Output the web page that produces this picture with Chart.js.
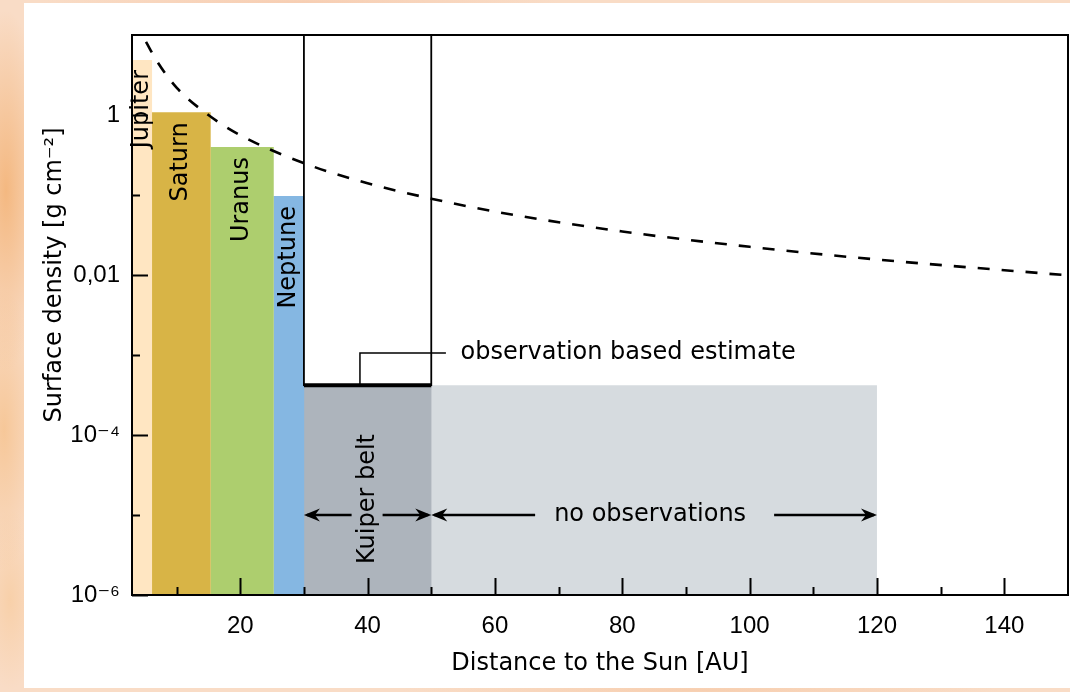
<!DOCTYPE html>
<html>
<head>
<meta charset="utf-8">
<script src="https://cdn.jsdelivr.net/npm/chart.js@4.4.1/dist/chart.umd.min.js"></script>
<style>
  html, body { margin: 0; padding: 0; }
  body {
    width: 1070px; height: 692px; overflow: hidden; position: relative;
    background:
      radial-gradient(ellipse 40px 180px at 6px 190px, rgba(242,172,105,.75), transparent),
      radial-gradient(ellipse 35px 140px at 4px 430px, rgba(245,188,128,.65), transparent),
      radial-gradient(ellipse 30px 90px at 10px 600px, rgba(247,200,150,.6), transparent),
      radial-gradient(ellipse 260px 10px at 300px 2px, rgba(246,200,170,.7), transparent),
      radial-gradient(ellipse 300px 8px at 700px 690px, rgba(246,200,165,.7), transparent),
      #f9dcc6;
  }
  #panel { position: absolute; left: 24px; top: 3px; width: 1046px; height: 685px; background: #fff; }
</style>
</head>
<body>
<div id="panel"><canvas id="chart" width="1046" height="685"></canvas></div>
<script>
// regions of the solar system (AU) and their surface density [g cm^-2]
const regionNames   = ['Jupiter', 'Saturn', 'Uranus', 'Neptune', 'Kuiper belt', 'no observations'];
const regionFrom    = [3, 6.1, 15.3, 25.2, 30, 50];
const regionTo      = [6.1, 15.3, 25.2, 30, 50, 120];
const regionDensity = [4.87, 1.08, 0.398, 0.097, 4.2e-4, 4.2e-4];
const regionColors  = ['#ffe6c2', '#d8b446', '#adce6e', '#85b7e2', '#adb4bc', '#d6dbdf'];

// dashed reference curve
const curveDist    = [5.2, 7, 10, 15, 20, 30, 40, 50, 60, 80, 100, 120, 150];
const curveDensity = [8.2, 4.6, 2.2, 1.0, 0.56, 0.25, 0.14, 0.09, 0.062, 0.035, 0.0225, 0.0156, 0.0099];

// Kuiper belt observed estimate and the (empty) box above it
const estimateDensity = 4.2e-4;
const boxTop = 10;

const xTickValues = [10, 20, 30, 40, 50, 60, 70, 80, 90, 100, 110, 120, 130, 140];
const xTickLabels = ['', '20', '', '40', '', '60', '', '80', '', '100', '', '120', '', '140'];
const yTickValues = [1e-6, 1e-5, 1e-4, 1e-3, 1e-2, 1e-1, 1];
const yTickLabels = ['10\u207B\u2076', '', '10\u207B\u2074', '', '0,01', '', '1'];

const FONT = '"DejaVu Sans", sans-serif';
const TICK_FONT = '"Liberation Sans", "DejaVu Sans", sans-serif';

// small overlap so neighbouring fills don't leave a white seam
const seam = 0.08;
const regionSets = regionNames.map((name, i) => {
  const end = regionTo[i] + (regionFrom[i + 1] === regionTo[i] ? seam : 0);
  return {
    label: name,
    data: [{x: regionFrom[i], y: regionDensity[i]}, {x: end, y: regionDensity[i]}],
    backgroundColor: regionColors[i],
    borderColor: 'rgba(0,0,0,0)',
    borderWidth: 1,
    fill: 'start',
    pointRadius: 0,
    order: 10
  };
});

const lineSets = [
  { label: 'curve', data: curveDist.map((d, i) => ({x: d, y: curveDensity[i]})),
    borderColor: '#000', borderWidth: 2.6, borderDash: [12, 12], cubicInterpolationMode: 'monotone',
    pointRadius: 0, fill: false, order: 1 },
  { label: 'box', data: [{x: regionFrom[4], y: boxTop}, {x: regionFrom[4], y: estimateDensity},
                         {x: regionTo[4], y: estimateDensity}, {x: regionTo[4], y: boxTop}],
    borderColor: '#000', borderWidth: 1.8, pointRadius: 0, fill: false, order: 2 },
  { label: 'estimate', data: [{x: regionFrom[4], y: estimateDensity}, {x: regionTo[4], y: estimateDensity}],
    borderColor: '#000', borderWidth: 4, pointRadius: 0, fill: false, order: 1 },
  { label: 'leader', data: [{x: 38.8, y: estimateDensity}, {x: 38.8, y: 1.06e-3}, {x: 52.3, y: 1.06e-3}],
    borderColor: '#000', borderWidth: 1.5, pointRadius: 0, fill: false, order: 1 }
];

function arrowHead(ctx, x, y, dir) {
  ctx.beginPath();
  ctx.moveTo(x, y);
  ctx.lineTo(x - dir * 16, y - 6.5);
  ctx.lineTo(x - dir * 11, y);
  ctx.lineTo(x - dir * 16, y + 6.5);
  ctx.closePath();
  ctx.fill();
}

function arrowPair(ctx, x1, x2, y, gapL, gapR) {
  ctx.beginPath();
  ctx.moveTo(x1 + 3, y); ctx.lineTo(gapL, y);
  ctx.moveTo(gapR, y); ctx.lineTo(x2 - 3, y);
  ctx.stroke();
  arrowHead(ctx, x1, y, -1);
  arrowHead(ctx, x2, y, 1);
}

const overlay = {
  id: 'overlay',
  afterDatasetsDraw(chart) {
    const {ctx, chartArea: a, scales: {x, y}} = chart;
    ctx.save();
    ctx.strokeStyle = '#000';
    ctx.fillStyle = '#000';
    ctx.lineWidth = 2;
    ctx.strokeRect(a.left, a.top, a.right - a.left, a.bottom - a.top);

    // inward ticks
    ctx.beginPath();
    xTickValues.forEach((v, i) => {
      const px = Math.round(x.getPixelForValue(v)) + 0.5;
      ctx.moveTo(px, a.bottom);
      ctx.lineTo(px, a.bottom - (xTickLabels[i] ? 17 : 8));
    });
    yTickValues.forEach((v, i) => {
      const py = Math.round(y.getPixelForValue(v)) + 0.5;
      ctx.moveTo(a.left, py);
      ctx.lineTo(a.left + (yTickLabels[i] ? 16 : 8), py);
    });
    ctx.stroke();

    // planet labels
    ctx.font = '24px ' + FONT;
    ctx.textBaseline = 'middle';
    for (let i = 0; i < 4; i++) {
      const cx = x.getPixelForValue((regionFrom[i] + regionTo[i]) / 2);
      const top = y.getPixelForValue(regionDensity[i]);
      ctx.save();
      ctx.translate(cx, top + 10);
      ctx.rotate(-Math.PI / 2);
      ctx.textAlign = 'right';
      ctx.fillText(regionNames[i], 0, 0);
      ctx.restore();
    }

    // arrows
    const ay = y.getPixelForValue(1e-5);
    ctx.lineWidth = 2.3;
    const k1 = x.getPixelForValue(regionFrom[4]), k2 = x.getPixelForValue(regionTo[4]);
    const kc = (k1 + k2) / 2;
    arrowPair(ctx, k1, k2, ay, kc - 16, kc + 15);
    const n1 = x.getPixelForValue(regionFrom[5]), n2 = x.getPixelForValue(regionTo[5]);
    const nc = (n1 + n2) / 2;
    arrowPair(ctx, n1, n2, ay, nc - 119, nc + 120);

    ctx.save();
    ctx.translate(kc, ay - 16);
    ctx.rotate(-Math.PI / 2);
    ctx.textAlign = 'center';
    ctx.fillText(regionNames[4], 0, 0);
    ctx.restore();

    ctx.textAlign = 'center';
    ctx.fillText(regionNames[5], nc - 4, ay);

    ctx.textAlign = 'left';
    ctx.fillText('observation based estimate', x.getPixelForValue(54.6), y.getPixelForValue(1.06e-3));

    // axis titles
    ctx.textAlign = 'center';
    ctx.fillText('Distance to the Sun [AU]', (a.left + a.right) / 2, 661);
    ctx.save();
    ctx.translate(31, 272);
    ctx.rotate(-Math.PI / 2);
    ctx.fillText('Surface density [g cm\u207B\u00B2]', 0, 0);
    ctx.restore();
    ctx.restore();
  }
};

new Chart(document.getElementById('chart'), {
  type: 'line',
  data: { datasets: [...lineSets, ...regionSets] },
  options: {
    responsive: false,
    animation: false,
    layout: { padding: { top: 32, right: 2, left: 0, bottom: 0 } },
    plugins: { legend: { display: false }, tooltip: { enabled: false } },
    scales: {
      x: {
        type: 'linear', min: 3, max: 150,
        grid: { display: false, drawTicks: false },
        border: { display: false },
        afterBuildTicks: s => { s.ticks = xTickValues.map(v => ({value: v})); },
        afterFit: s => { s.height = 93; },
        ticks: { autoSkip: false, maxRotation: 0, padding: 17, color: '#000',
                 font: { family: TICK_FONT, size: 24 },
                 callback: (v, i) => xTickLabels[i] }
      },
      y: {
        type: 'logarithmic', min: 1e-6, max: 10,
        grid: { display: false, drawTicks: false },
        border: { display: false },
        afterBuildTicks: s => { s.ticks = yTickValues.map(v => ({value: v})); },
        afterFit: s => { s.width = 108; },
        ticks: { autoSkip: false, padding: 12, color: '#000',
                 font: { family: TICK_FONT, size: 24 },
                 callback: (v, i) => yTickLabels[i] }
      }
    }
  },
  plugins: [overlay]
});
</script>
</body>
</html>
